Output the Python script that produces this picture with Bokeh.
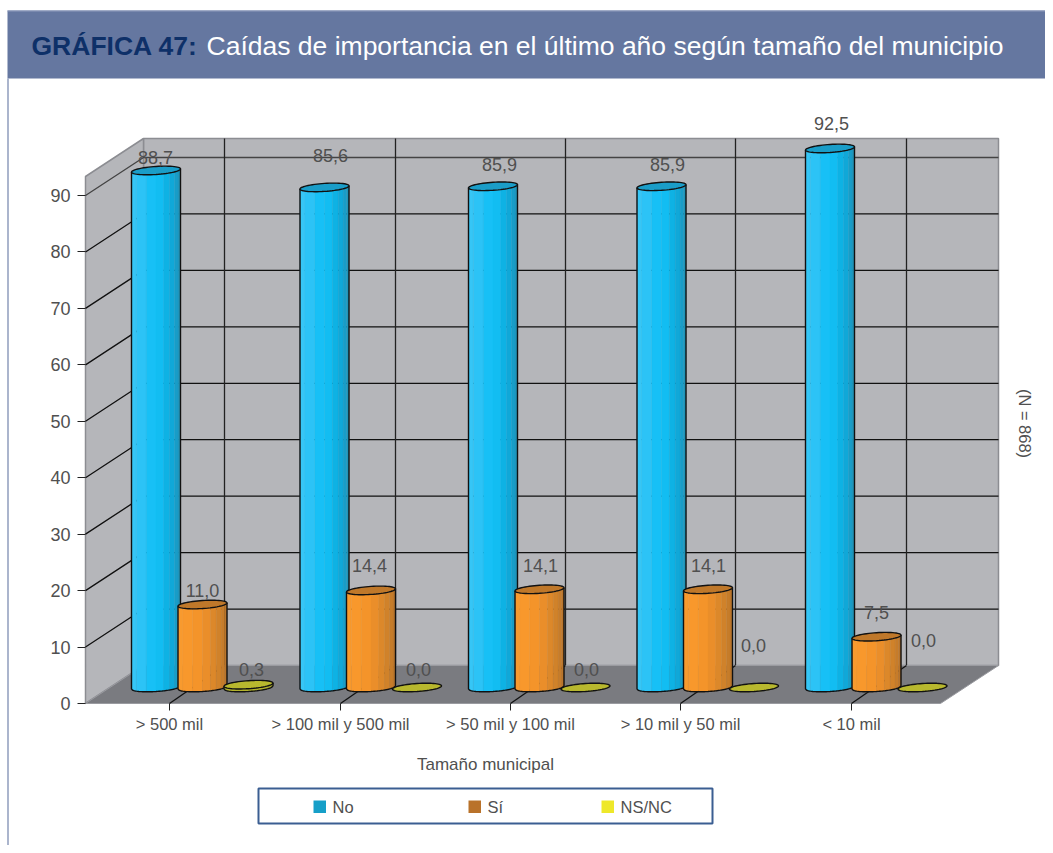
import numpy as np
from bokeh.plotting import figure
from bokeh.models import LinearAxis, FixedTicker, Range1d
from bokeh.core.properties import value
from bokeh.embed import file_html
from bokeh.resources import INLINE

categories = ["> 500 mil", "> 100 mil y 500 mil", "> 50 mil y 100 mil", "> 10 mil y 50 mil", "< 10 mil"]
no_labels = ["88,7", "85,6", "85,9", "85,9", "92,5"]
si_labels = ["11,0", "14,4", "14,1", "14,1", "7,5"]
ns_labels = ["0,3", "0,0", "0,0", "0,0", "0,0"]
# heights as they stand against the chart's own axis
no_heights = [91.6, 88.6, 88.8, 88.8, 95.5]
si_heights = [14.7, 17.2, 17.4, 17.4, 9.0]
ns_heights = [0.5, 0.0, 0.0, 0.0, 0.0]
y_ticks = list(range(0, 100, 10))

# layout in canvas pixels
W, H = 1045, 845
FONT = "Liberation Sans"
TXT = "#505050"
Y0 = 703.0
UNIT = 508.0 / 90
DX, DY = 58.0, 38.0
FX0, FX1 = 85.0, 940.0
WALL_TOP = 138.0
BASE_Y = 687.0
RX, RY, TILT = 24.5, 4.0, 1.6

def val(py):
    return (Y0 - np.asarray(py, dtype=float)) / UNIT

p = figure(width=W, height=H, output_backend="svg", toolbar_location=None,
           x_axis_location=None, y_axis_location=None,
           x_range=Range1d(0, W), y_range=Range1d(float(val(H)), float(val(0))),
           min_border=0, min_border_left=0, min_border_right=0, min_border_top=0, min_border_bottom=0,
           outline_line_color=None, background_fill_color="white", border_fill_color="white")
p.grid.visible = False

def text(x, py, s, size=16, color=TXT, align="center", weight="normal", angle=0.0):
    p.text([x], [float(val(py))], text=[s], text_font=value(FONT), text_font_size=f"{size}px",
           text_color=color, text_align=align, text_baseline="middle", text_font_style=weight, angle=angle)

# banner
p.quad(left=[7], right=[W], top=[float(val(10))], bottom=[float(val(78))],
       fill_color="#6577a0", line_color=None)
p.line([7, W], [float(val(10.5))] * 2, line_color="#8f9cbc", line_width=1)
p.line([7.5, 7.5], [float(val(78)), float(val(H))], line_color="#8f9cbc", line_width=1.5)
text(31, 45, "GRÁFICA 47:", 26.5, "#0e3068", "left", "bold")
text(206, 45, "Caídas de importancia en el último año según tamaño del municipio", 26.5, "white", "left")

# walls and floor
back_y0 = Y0 - DY
p.patch([FX0 + DX, FX1 + DX, FX1 + DX, FX0 + DX],
        val([WALL_TOP, WALL_TOP, back_y0, back_y0]), fill_color="#b5b6ba", line_color="#8c8d92", line_width=1.5)
p.patch([FX0, FX0 + DX, FX0 + DX, FX0],
        val([WALL_TOP + DY, WALL_TOP, back_y0, Y0]), fill_color="#b5b6ba", line_color="#8c8d92", line_width=1.5)
ticks_x = [int(round(169 + 170.5 * i)) for i in range(len(categories))]
for t in y_ticks[1:]:
    c = "#444444" if t == y_ticks[-1] else "#111111"
    py = Y0 - t * UNIT
    p.line([FX0, FX0 + DX, FX1 + DX], val([py, py - DY, py - DY]), line_color=c, line_width=1.3)
for tx in ticks_x:
    bx = tx + 55
    p.line([bx, bx], val([WALL_TOP, back_y0]), line_color="#222222", line_width=1.3)
p.patch([FX0, FX0 + DX, FX1 + DX, FX1], val([Y0, back_y0, back_y0, Y0]),
        fill_color="#7a7b80", line_color="#9a9ba0", line_width=1)
for tx in ticks_x:
    p.line([tx, tx + 55], val([Y0, back_y0]), line_color="#111111", line_width=1.3)

# cylinders
BLUE = ["#36c6f6", "#2cc3f6", "#17c0f6", "#12bdf2", "#0eb2e4", "#10a8d8", "#189dc8", "#1e95ba"]
ORANGE = ["#f89a2e", "#f8982c", "#f4942a", "#ea8e2a", "#dc882a", "#d0822a", "#c67c2a", "#bc762a"]
YELLOW = ["#b4b42c"] * 8
FR = [0, .1, .3, .5, .66, .78, .88, .95, 1]

def cylinder(cx, height, strips, cap):
    top_y = BASE_Y - height * UNIT
    for j, col in enumerate(strips):
        u = np.linspace(FR[j] * 2 - 1, FR[j + 1] * 2 - 1, 8)
        xs = cx + RX * u
        off = RY * np.sqrt(np.clip(1 - u ** 2, 0, 1)) - TILT * u
        p.patch(np.r_[xs, xs[::-1]], val(np.r_[top_y + off, (BASE_Y + off)[::-1]]),
                fill_color=col, line_color=col, line_width=0.3)
    u = np.linspace(-1, 1, 41)
    xs = cx + RX * u
    off = RY * np.sqrt(1 - u ** 2) - TILT * u
    if height > 0:
        p.line(np.r_[xs[0], xs, xs[-1]], val(np.r_[top_y + off[0], BASE_Y + off, top_y + off[-1]]),
               line_color="#111111", line_width=1.4)
    t = np.linspace(0, 2 * np.pi, 61)
    p.patch(cx + RX * np.cos(t), val(top_y + RY * np.sin(t) - TILT * np.cos(t)),
            fill_color=cap, line_color="#111111", line_width=1.4)

for i in range(len(categories)):
    cylinder(155.5 + 168.5 * i, no_heights[i], BLUE, "#1a9dc8")
    cylinder(202 + 168.5 * i, si_heights[i], ORANGE, "#bf782a")
    cylinder(248 + 168.5 * i, ns_heights[i], YELLOW, "#b8b82e")

# value labels
no_pos = [(155, 157), (330, 155), (499, 164), (667, 164), (831, 123)]
si_pos = [(202, 590), (369, 565), (540, 565), (708, 565), (876, 612)]
ns_pos = [(251, 669), (418, 669), (586, 669), (753, 645), (923, 640)]
for labels, pos in ((no_labels, no_pos), (si_labels, si_pos), (ns_labels, ns_pos)):
    for s, (x, y) in zip(labels, pos):
        text(x, y, s, 18)

# axes
ya = LinearAxis(fixed_location=FX0, ticker=FixedTicker(ticks=y_ticks), bounds=(0, 90))
ya.axis_line_color = None
ya.major_tick_line_color = "#222222"
ya.major_tick_out = 8
ya.major_tick_in = 0
ya.minor_tick_line_color = None
ya.major_label_standoff = 7
ya.major_label_text_font = FONT
ya.major_label_text_font_size = "18px"
ya.major_label_text_color = TXT
p.add_layout(ya, "left")

xa = LinearAxis(fixed_location=0, ticker=FixedTicker(ticks=ticks_x),
                major_label_overrides=dict(zip(ticks_x, categories)))
xa.axis_line_color = None
xa.major_tick_line_color = "#222222"
xa.major_tick_out = 7
xa.major_tick_in = 0
xa.minor_tick_line_color = None
xa.major_label_standoff = 4
xa.major_label_text_font = FONT
xa.major_label_text_font_size = "16.5px"
xa.major_label_text_color = TXT
p.add_layout(xa, "below")

text(485, 764, "Tamaño municipal", 17)
text(1024, 423, "(N = 868)", 16.5, angle=-np.pi / 2)

# legend
legend_items = ["No", "Sí", "NS/NC"]
legend_colors = ["#169fc8", "#b9722a", "#eee82a"]
legend_swatch_x = [313, 468, 601]
p.quad(left=[258], right=[712], top=[float(val(788))], bottom=[float(val(823))],
       fill_color="white", line_color="#3b5e92", line_width=2)
for s, c, x in zip(legend_items, legend_colors, legend_swatch_x):
    p.quad(left=[x], right=[x + 12.5], top=[float(val(800))], bottom=[float(val(812.5))], fill_color=c, line_color=None)
    text(x + 19, 806, s, 16.5, align="left")

open("out.html", "w").write(file_html(p, INLINE))
